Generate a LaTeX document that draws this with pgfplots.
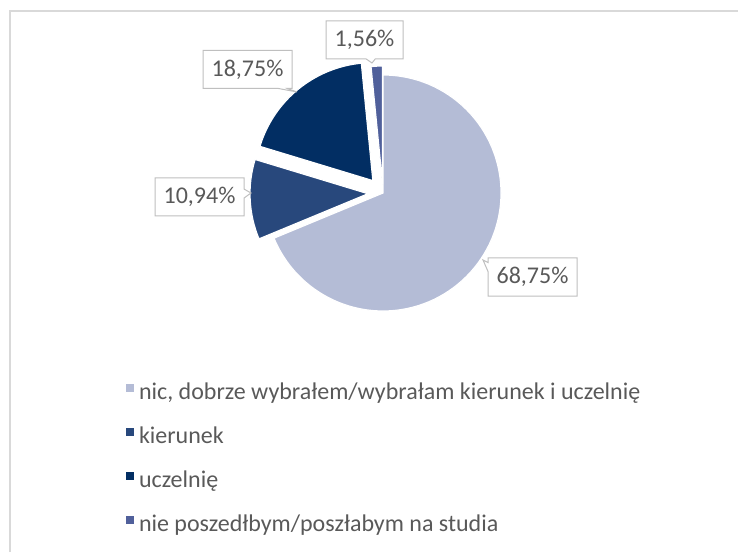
\documentclass[border=0pt]{standalone}
\usepackage{pgfplots}
\pgfplotsset{compat=1.18}
\usepackage{pgfplotstable}
\usepackage{fontspec}
\setmainfont{Carlito}
\usetikzlibrary{calc,shapes.callouts}
\definecolor{cA}{HTML}{B4BCD6}
\definecolor{cB}{HTML}{28487C}
\definecolor{cC}{HTML}{022E63}
\definecolor{cD}{HTML}{50609B}
\definecolor{txt}{HTML}{595959}
\definecolor{frm}{HTML}{D9D9D9}
\definecolor{lbl}{HTML}{BFBFBF}

\pgfplotstableread{
label value explode
nic 68.75 0
kierunek 10.94 15
uczelnie 18.75 16
nie 1.56 9
}\piedata

\pgfkeys{/pgf/number format/.cd, use comma, fixed, fixed zerofill, precision=2, assume math mode=true}

\begin{document}
\begin{tikzpicture}
\path[use as bounding box] (0,0) rectangle (738pt,552pt);
\pgfplotstablegetelem{0}{value}\of\piedata \let\vA\pgfplotsretval
\pgfplotstablegetelem{1}{value}\of\piedata \let\vB\pgfplotsretval
\pgfplotstablegetelem{2}{value}\of\piedata \let\vC\pgfplotsretval
\pgfplotstablegetelem{3}{value}\of\piedata \let\vD\pgfplotsretval
\pgfplotstablegetelem{0}{explode}\of\piedata \let\xA\pgfplotsretval
\pgfplotstablegetelem{1}{explode}\of\piedata \let\xB\pgfplotsretval
\pgfplotstablegetelem{2}{explode}\of\piedata \let\xC\pgfplotsretval
\pgfplotstablegetelem{3}{explode}\of\piedata \let\xD\pgfplotsretval
\pgfmathsetmacro\sA{90}
\pgfmathsetmacro\eA{\sA-3.6*\vA}
\pgfmathsetmacro\eB{\eA-3.6*\vB}
\pgfmathsetmacro\eC{\eB-3.6*\vC}
\pgfmathsetmacro\eD{\eC-3.6*\vD}
\pgfmathsetmacro\mA{(\sA+\eA)/2}
\pgfmathsetmacro\mB{(\eA+\eB)/2}
\pgfmathsetmacro\mC{(\eB+\eC)/2}
\pgfmathsetmacro\mD{(\eC+\eD)/2}
\begin{axis}[
  at={(0,0)}, anchor=origin,
  scale only axis, width=738pt, height=552pt,
  xmin=0, xmax=738, ymin=0, ymax=552,
  axis lines=none, clip=false,
  legend style={at={(axis cs:126,170)}, anchor=north west, draw=none, fill=none,
    inner sep=0pt, outer sep=0pt,
    font=\fontsize{24}{28}\selectfont\color{txt}, row sep=22pt,
    nodes={inner sep=0pt, text height=17pt, text depth=5pt}},
  legend cell align=left,
  legend image code/.code={\path[draw=none,fill=none] (0pt,0pt) -- (13pt,0pt); \fill[#1,draw=none] (0pt,1.5pt) rectangle (8pt,9.5pt);},
]
\draw[frm, line width=1.5pt] (axis cs:10,0) -- (axis cs:10,541) -- (axis cs:738,541);

\fill[cA, draw=white, line width=1.2pt] ($(axis cs:383,359)+(\mA:\xA pt)$) -- +(\sA:118pt) arc[start angle=\sA, end angle=\eA, radius=118pt] -- cycle;
\fill[cB, draw=white, line width=1.2pt] ($(axis cs:383,359)+(\mB:\xB pt)$) -- +(\eA:118pt) arc[start angle=\eA, end angle=\eB, radius=118pt] -- cycle;
\fill[cC, draw=white, line width=1.2pt] ($(axis cs:383,359)+(\mC:\xC pt)$) -- +(\eB:118pt) arc[start angle=\eB, end angle=\eC, radius=118pt] -- cycle;
\fill[cD, draw=white, line width=1.2pt] ($(axis cs:383,359)+(\mD:\xD pt)$) -- +(\eC:118pt) arc[start angle=\eC, end angle=\eD, radius=118pt] -- cycle;

\tikzset{lab/.style={rectangle callout, draw=lbl, line width=1pt, fill=white, text=txt,
  font=\fontsize{24}{28}\selectfont, minimum width=89pt, minimum height=38pt, inner sep=0pt,
  callout pointer width=9pt}}
\node[lab, minimum width=77pt, callout absolute pointer={(axis cs:372,489)}] at (axis cs:364.5,512) {\pgfmathprintnumber{\vD}\%};
\node[lab, callout absolute pointer={(axis cs:297,460)}] at (axis cs:247.5,482.5) {\pgfmathprintnumber{\vC}\%};
\node[lab, callout absolute pointer={(axis cs:251,359)}] at (axis cs:199.5,355) {\pgfmathprintnumber{\vB}\%};
\node[lab, callout absolute pointer={(axis cs:483,292)}] at (axis cs:532.5,275) {\pgfmathprintnumber{\vA}\%};

\addlegendimage{cA}
\addlegendentry{nic, dobrze wybrałem/wybrałam kierunek i uczelnię}
\addlegendimage{cB}
\addlegendentry{kierunek}
\addlegendimage{cC}
\addlegendentry{uczelnię}
\addlegendimage{cD}
\addlegendentry{nie poszedłbym/poszłabym na studia}
\end{axis}
\end{tikzpicture}
\end{document}
